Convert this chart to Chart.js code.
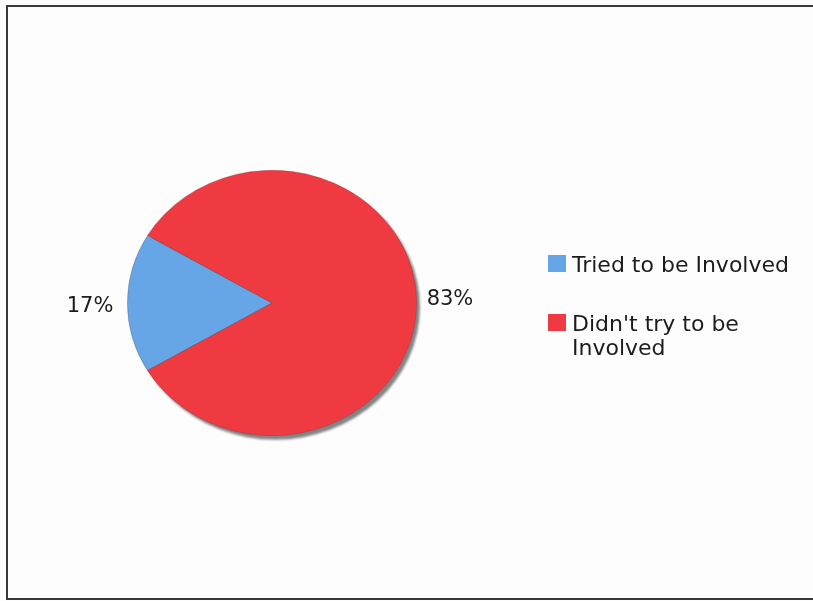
<!DOCTYPE html>
<html>
<head>
<meta charset="utf-8">
<script src="https://cdn.jsdelivr.net/npm/chart.js@4/dist/chart.umd.min.js"></script>
<style>
  html, body { margin: 0; padding: 0; background: #fdfdfd; }
  #wrap { position: relative; width: 813px; height: 601px; overflow: hidden; }
  #frame { position: absolute; left: 6px; top: 5px; width: 830px; height: 591px; border: 2px solid #3a3a3a; box-sizing: content-box; }
  canvas { position: absolute; left: 0; top: 0; }
</style>
</head>
<body>
<div id="wrap">
  <div id="frame"></div>
  <canvas id="pie" width="813" height="601"></canvas>
</div>
<script>
const categories = ['Tried to be Involved', ["Didn't try to be", 'Involved']];
const shares = [17, 83];
const sliceColors = ['#66a6e6', '#f03a42'];

// the pie is drawn slightly wider than tall
const stretchX = 1.09;
const labelFont = '21px "DejaVu Sans", Verdana, sans-serif';
const legendFont = '22px "DejaVu Sans", Verdana, sans-serif';

// squash the pie into an ellipse and lay a soft shadow under it
const ellipsePlugin = {
    id: 'ellipse',
    beforeDatasetsDraw(chart) {
        const arc = chart.getDatasetMeta(0).data[0];
        const ctx = chart.ctx;
        ctx.save();
        ctx.translate(arc.x, arc.y);
        ctx.scale(stretchX, 1);
        ctx.translate(-arc.x, -arc.y);
        ctx.save();
        ctx.fillStyle = 'rgba(110,110,110,0.85)';
        ctx.filter = 'blur(1px)';
        ctx.beginPath();
        ctx.arc(arc.x + 3, arc.y + 4, arc.outerRadius, 0, Math.PI * 2);
        ctx.fill();
        ctx.restore();
    },
    afterDatasetsDraw(chart) {
        chart.ctx.restore();
    }
};

// percentage labels outside each slice
const percentPlugin = {
    id: 'percentLabels',
    afterDatasetsDraw(chart) {
        const ctx = chart.ctx;
        const values = chart.data.datasets[0].data;
        ctx.save();
        ctx.font = labelFont;
        ctx.fillStyle = '#1c1c1c';
        ctx.textBaseline = 'middle';
        chart.getDatasetMeta(0).data.forEach((arc, i) => {
            const mid = (arc.startAngle + arc.endAngle) / 2;
            const cos = Math.cos(mid), sin = Math.sin(mid);
            const gap = cos < 0 ? 14 : 10;
            const x = arc.x + cos * (arc.outerRadius * stretchX + gap);
            const y = arc.y + sin * arc.outerRadius + (cos < 0 ? 4 : -3);
            ctx.textAlign = cos < 0 ? 'right' : 'left';
            ctx.fillText(values[i] + '%', x, y);
        });
        ctx.restore();
    }
};

// legend on the right with wrapped labels
const legendPlugin = {
    id: 'sideLegend',
    afterDraw(chart) {
        const ctx = chart.ctx;
        const colors = chart.data.datasets[0].backgroundColor;
        const left = 548, box = 17, lineH = 24;
        let top = 255;
        ctx.save();
        ctx.font = legendFont;
        ctx.textBaseline = 'alphabetic';
        ctx.textAlign = 'left';
        chart.data.labels.forEach((label, i) => {
            const lines = Array.isArray(label) ? label : [label];
            ctx.fillStyle = colors[i];
            ctx.fillRect(left, top, box + 1, box);
            ctx.fillStyle = '#1c1c1c';
            lines.forEach((line, j) => {
                ctx.fillText(line, 572, top + 17 + j * lineH);
            });
            top += 59;
        });
        ctx.restore();
    }
};

new Chart(document.getElementById('pie'), {
    type: 'pie',
    data: {
        labels: categories,
        datasets: [{
            data: shares,
            backgroundColor: sliceColors,
            borderColor: 'rgba(90,60,70,0.45)',
            borderWidth: 0.6
        }]
    },
    options: {
        responsive: false,
        animation: false,
        rotation: 270 - (shares[0] / 100) * 180,
        layout: { padding: { top: 170, bottom: 165, left: 139, right: 408 } },
        plugins: {
            legend: { display: false },
            tooltip: { enabled: false }
        }
    },
    plugins: [ellipsePlugin, percentPlugin, legendPlugin]
});
</script>
</body>
</html>
